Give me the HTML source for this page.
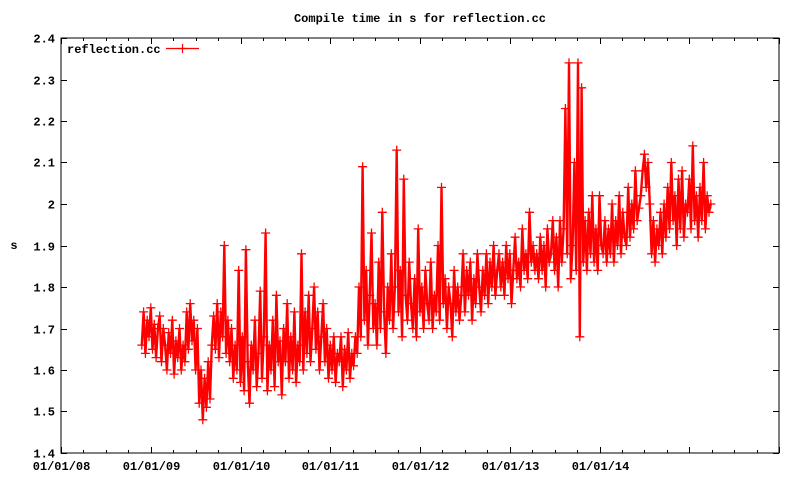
<!DOCTYPE html>
<html><head><meta charset="utf-8"><style>
html,body{margin:0;padding:0;background:#fff;}
svg{display:block;font-family:"Liberation Mono",monospace;font-weight:bold;font-size:12px;}
</style></head><body>
<svg id="chart" width="800" height="480">
<text x="420" y="22" text-anchor="middle">Compile time in s for reflection.cc</text>
<text x="14" y="249" text-anchor="middle">s</text>
<g id="axes"></g>
<g id="series"></g>
<rect x="61" y="38" width="718" height="415" fill="none" stroke="#000" stroke-width="1"/>
<g>
<text x="67" y="53">reflection.cc</text>
<line x1="166" y1="48.5" x2="199" y2="48.5" stroke="#f00" stroke-width="1.2"/>
<path d="M178,48.5h9M182.5,44v9" stroke="#f00" stroke-width="1.2"/>
</g>
</svg>
<script>
const yTicks=[1.4,1.5,1.6,1.7,1.8,1.9,2,2.1,2.2,2.3,2.4];
const xTickYears=[2008,2009,2010,2011,2012,2013,2014,2015,2016];
const xTickLabels=["01/01/08","01/01/09","01/01/10","01/01/11","01/01/12","01/01/13","01/01/14","",""];
const startYear=2008.9;
const stepYears=0.02;
const values=[
1.66,1.74,1.64,1.72,1.68,1.75,1.65,1.71,1.63,1.70,
1.73,1.62,1.70,1.66,1.60,1.69,1.64,1.72,1.59,1.67,
1.63,1.70,1.60,1.66,1.62,1.74,1.65,1.76,1.67,1.72,
1.60,1.70,1.52,1.60,1.48,1.58,1.51,1.62,1.53,1.66,
1.73,1.65,1.76,1.63,1.74,1.68,1.90,1.64,1.72,1.62,
1.70,1.58,1.66,1.60,1.84,1.57,1.68,1.55,1.89,1.62,
1.52,1.66,1.60,1.72,1.56,1.64,1.79,1.58,1.68,1.93,
1.55,1.66,1.60,1.72,1.56,1.78,1.62,1.67,1.54,1.70,
1.62,1.76,1.58,1.68,1.60,1.74,1.57,1.66,1.62,1.88,
1.60,1.74,1.64,1.78,1.62,1.70,1.80,1.65,1.74,1.60,
1.68,1.76,1.62,1.70,1.58,1.66,1.60,1.68,1.57,1.64,
1.62,1.68,1.56,1.65,1.60,1.69,1.58,1.64,1.61,1.68,
1.64,1.80,1.68,2.09,1.72,1.84,1.66,1.78,1.93,1.70,
1.76,1.66,1.86,1.70,1.98,1.74,1.64,1.80,1.72,1.88,
1.70,1.80,2.13,1.74,1.84,1.68,2.06,1.78,1.72,1.86,
1.76,1.70,1.82,1.68,1.94,1.74,1.80,1.70,1.84,1.76,
1.72,1.86,1.70,1.78,1.74,1.90,1.72,2.04,1.76,1.82,
1.70,1.80,1.76,1.68,1.84,1.74,1.80,1.72,1.78,1.88,
1.74,1.84,1.78,1.86,1.72,1.82,1.76,1.88,1.80,1.74,
1.84,1.78,1.88,1.76,1.86,1.80,1.90,1.78,1.84,1.88,
1.80,1.86,1.78,1.90,1.82,1.88,1.76,1.84,1.92,1.82,
1.86,1.80,1.94,1.84,1.88,1.82,1.98,1.86,1.90,1.84,
1.88,1.82,1.92,1.84,1.90,1.80,1.94,1.86,1.88,1.96,
1.84,1.92,1.80,1.96,1.86,1.94,2.23,1.88,2.34,1.82,
1.90,2.10,1.84,2.34,1.68,2.28,1.86,1.96,1.84,1.98,
1.88,2.02,1.86,1.94,1.84,2.02,1.90,1.88,1.96,1.86,
1.94,1.88,2.00,1.86,1.96,1.90,2.02,1.88,1.98,1.92,
1.90,2.04,1.92,2.00,1.94,2.08,1.96,1.99,2.02,2.08,
2.12,2.04,2.10,2.00,1.88,1.96,1.86,1.94,1.90,1.98,
1.88,2.00,1.92,2.04,1.94,2.10,1.96,2.02,1.90,2.06,
1.94,2.08,1.92,2.00,1.98,2.06,1.94,2.14,1.96,2.02,
1.92,2.04,1.96,2.10,1.94,2.02,1.98,2.00];

const L=61,R=779,T=38,B=453,X0=2008,X1=2016,Y0=1.4,Y1=2.4;
function xs(t){return L+(t-X0)/(X1-X0)*(R-L);}
function ys(v){return B-(v-Y0)/(Y1-Y0)*(B-T);}
const NS="http://www.w3.org/2000/svg";
const axes=document.getElementById('axes');
const ser=document.getElementById('series');
let d="";
yTicks.forEach(v=>{
  const y=Math.round(ys(v))+0.5;
  d+=`M${L},${y}h6M${R},${y}h-6`;
  const t=document.createElementNS(NS,'text');
  t.setAttribute('x',55);t.setAttribute('y',y+4);t.setAttribute('text-anchor','end');
  t.textContent=String(v);
  
  
  axes.appendChild(t);
});
xTickYears.forEach((yr,i)=>{
  const x=Math.round(xs(yr))+0.5;
  d+=`M${x},${B}v-6M${x},${T}v6`;
  if(i<xTickYears.length-1){for(let q=1;q<4;q++){const xm=Math.round(xs(yr+q/4))+0.5;d+=`M${xm},${B}v-3M${xm},${T}v3`;}}
  if(xTickLabels[i]){
    const t=document.createElementNS(NS,'text');
    t.setAttribute('x',x);t.setAttribute('y',470);t.setAttribute('text-anchor','middle');
    t.textContent=xTickLabels[i];
    
    
    axes.appendChild(t);
  }
});
const tp=document.createElementNS(NS,'path');
tp.setAttribute('d',d);tp.setAttribute('stroke','#000');tp.setAttribute('fill','none');


axes.appendChild(tp);

let ld="",md="";
values.forEach((v,i)=>{
  const x=xs(startYear+i*stepYears),y=ys(v);
  ld+=(i?"L":"M")+x.toFixed(1)+","+y.toFixed(1);
  md+=`M${(x-4.5).toFixed(1)},${y.toFixed(1)}h9M${x.toFixed(1)},${(y-4.5).toFixed(1)}v9`;
});
const line=document.createElementNS(NS,'path');
line.setAttribute('d',ld);line.setAttribute('stroke','#f00');line.setAttribute('stroke-width','2.4');line.setAttribute('fill','none');


ser.appendChild(line);
const mk=document.createElementNS(NS,'path');
mk.setAttribute('d',md);mk.setAttribute('stroke','#f00');mk.setAttribute('stroke-width','1.3');mk.setAttribute('fill','none');


ser.appendChild(mk);
</script>
</body></html>
